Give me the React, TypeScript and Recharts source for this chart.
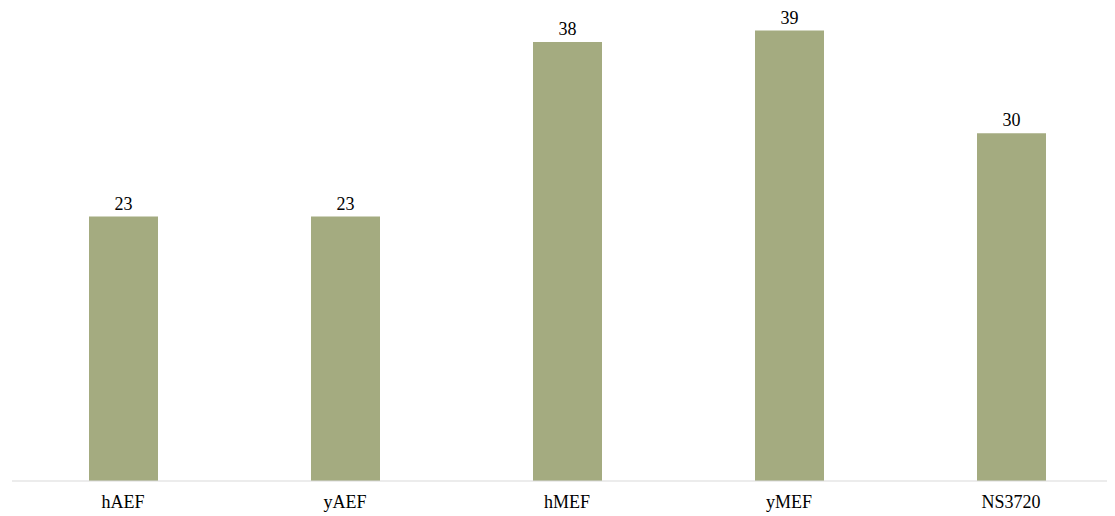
import { BarChart, Bar, XAxis, YAxis, LabelList } from 'recharts';

const categories = ['hAEF', 'yAEF', 'hMEF', 'yMEF', 'NS3720'];
const values = [22.9, 22.9, 38, 39, 30.1];

const FONT = '"Liberation Serif", "Times New Roman", serif';

export default function App() {
  const chartData = categories.map((name, i) => ({ name, value: values[i] }));

  return (
    <div style={{ width: 1107, height: 505, overflow: 'hidden' }}>
      <BarChart
        width={1114}
        height={505}
        data={chartData}
        margin={{ left: 4, right: 0, top: 11, bottom: 0 }}
        barCategoryGap={0}
      >
        <XAxis
          dataKey="name"
          height={32}
          tickLine={false}
          tickMargin={8}
          axisLine={{ stroke: '#d9d9d9', strokeWidth: 1 }}
          tick={{ fill: '#000', fontSize: 18, fontFamily: FONT }}
        />
        <YAxis hide domain={[0, 40]} />
        <Bar dataKey="value" fill="#a4ab80" barSize={69} isAnimationActive={false}>
          <LabelList
            dataKey="value"
            position="top"
            offset={7}
            formatter={(v: number) => Math.round(v)}
            style={{ fill: '#000', fontSize: 18, fontFamily: FONT }}
          />
        </Bar>
      </BarChart>
    </div>
  );
}
